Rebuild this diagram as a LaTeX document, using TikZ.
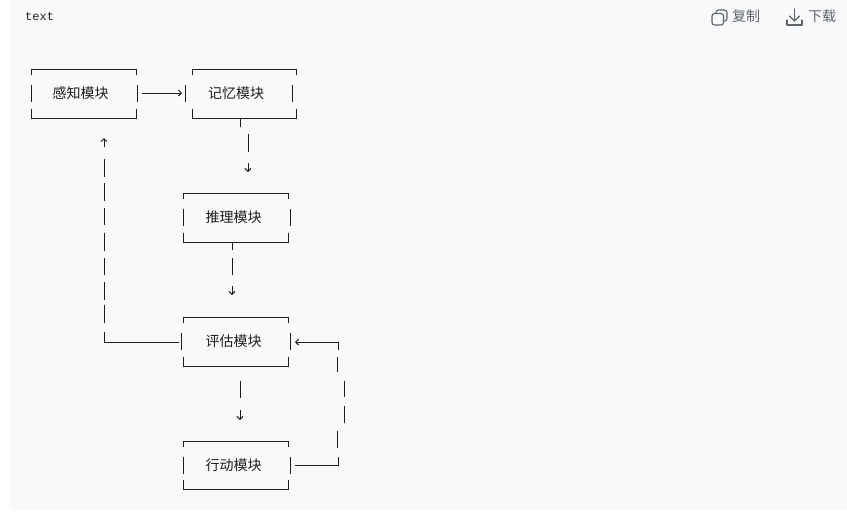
\documentclass[tikz,border=0pt]{standalone}
\usepackage{fontspec}
\setmainfont{Noto Sans CJK SC}
\newfontfamily\codefont{Liberation Mono}
\usetikzlibrary{arrows.meta}
\definecolor{panel}{RGB}{248,249,251}
\definecolor{ink}{RGB}{30,30,30}
\definecolor{ui}{RGB}{95,99,104}
\tikzset{
  ln/.style={draw=ink, line width=1pt},
  arr/.style={ln, -{Straight Barb[length=3pt,width=6pt]}},
  lab/.style={font=\fontsize{14}{16}\selectfont, text=ink, inner sep=0pt},
  uitext/.style={font=\fontsize{14}{16}\selectfont, text=ui, inner sep=0pt},
  icon/.style={draw=ui, line width=1.1pt, line cap=round, line join=round},
}
\newcommand\asciibox[7]{% name L R T B xl xr
  \coordinate (#1) at ({(#2+#3)/2},{(#4+#5)/2});
  \draw[ln] (#2,#4+6) -- (#2,#4) -- (#3,#4) -- (#3,#4+6);
  \draw[ln] (#2,#5-9) -- (#2,#5) -- (#3,#5) -- (#3,#5-9);
  \draw[ln] (#6,{(#4+#5)/2-8.5}) -- (#6,{(#4+#5)/2+8.5});
  \draw[ln] (#7,{(#4+#5)/2-8.5}) -- (#7,{(#4+#5)/2+8.5});
}
\begin{document}
\begin{tikzpicture}[x=1pt,y=-1pt]
\useasboundingbox (0,0) rectangle (847,512);
\begin{scope}
\clip (0,0) rectangle (847,512);
\fill[panel, rounded corners=7pt] (9,-10) rectangle (860,510);
\end{scope}
% header
\node[font=\codefont\fontsize{12}{14}\selectfont, text=ink, anchor=west, inner sep=0pt] (hdr) at (25,17) {text};
% copy icon
\draw[icon, rounded corners=2.5pt] (716,13) -- (716,10) -- (727,10) -- (727,21) -- (724,21);
\draw[icon, rounded corners=2.5pt] (712,13.5) rectangle (723.5,25);
\node[uitext, anchor=west] (copy) at (732,16.5) {复制};
% download icon
\draw[icon] (794.5,9) -- (794.5,21);
\draw[icon] (789.5,16) -- (794.5,21) -- (799.5,16);
\draw[icon] (787,20) -- (787,25) -- (802,25) -- (802,20);
\node[uitext, anchor=west] (dl) at (808,16.5) {下载};
% boxes
\asciibox{b1}{31}{136}{69}{118}{31}{137}
\asciibox{b2}{192}{296}{69}{118}{185}{292}
\asciibox{b3}{183}{288}{193}{242}{183}{290}
\asciibox{b4}{183}{288}{317}{366}{181}{290}
\asciibox{b5}{183}{288}{441}{489}{183}{290}
\node[lab] (t1) at (80.5,93.5) {感知模块};
\node[lab] (t2) at (236,93.5) {记忆模块};
\node[lab] (t3) at (233.5,217) {推理模块};
\node[lab] (t4) at (233.5,341.5) {评估模块};
\node[lab] (t5) at (233.5,465.5) {行动模块};
% b1 -> b2
\draw[arr] (142,93) -- (182,93);
% b2 -> b3
\draw[ln] (240,119) -- (240,127);
\draw[ln] (248,134) -- (248,152);
\draw[arr] (248,163) -- (248,172);
% b3 -> b4
\draw[ln] (232,243) -- (232,250);
\draw[ln] (232,258) -- (232,275);
\draw[arr] (232,286) -- (232,295);
% b4 -> b5
\draw[ln] (240,381) -- (240,398);
\draw[arr] (240,410) -- (240,420);
% feedback b4 -> b1
\draw[ln] (179,342) -- (104,342) -- (104,332);
\foreach \a/\b in {305/323,282/300,258/275,233/251,208/225,183/201,159/177}
  \draw[ln] (104,\a) -- (104,\b);
\draw[arr] (104,147) -- (104,138);
% feedback b5 -> b4
\draw[ln] (295,465) -- (338,465) -- (338,457);
\draw[ln] (337,431) -- (337,448);
\draw[ln] (344,406) -- (344,423);
\draw[ln] (344,381) -- (344,397);
\draw[ln] (337,357) -- (337,372);
\draw[arr] (338,350) -- (338,342) -- (295,342);
\end{tikzpicture}
\end{document}
